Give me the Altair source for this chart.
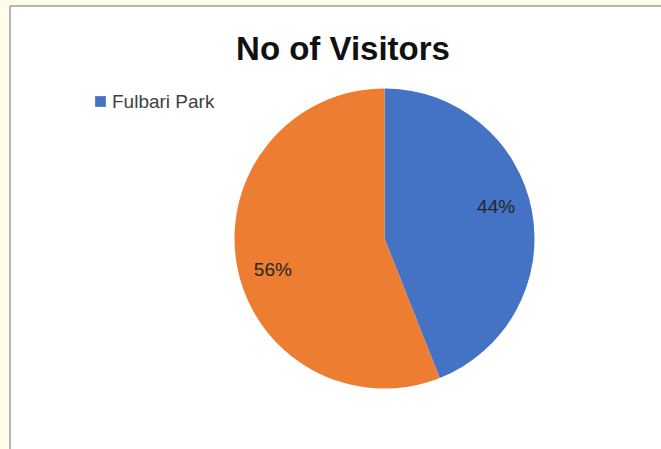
import altair as alt
import pandas as pd

title_text = "No of Visitors"
categories = ["Fulbari Park", "Other"]
shares = [44, 56]
labels = ["44%", "56%"]
colors = ["#4472C4", "#ED7D31"]
legend_values = ["Fulbari Park"]

df = pd.DataFrame({
    "category": categories,
    "share": shares,
    "label": labels,
    "order": list(range(len(categories))),
})

FONT = "Liberation Sans"
CX, CY = 374.5, 232.5
W, H = 651, 443

base = alt.Chart(df).encode(
    theta=alt.Theta("share:Q", stack=True),
    order=alt.Order("order:Q"),
)

pie = base.mark_arc(outerRadius=150).encode(
    x=alt.value(CX),
    y=alt.value(CY),
    color=alt.Color(
        "category:N",
        scale=alt.Scale(domain=categories, range=colors),
        legend=alt.Legend(
            values=legend_values,
            orient="none",
            legendX=81,
            legendY=86,
            title=None,
            symbolType="square",
            symbolSize=115,
            symbolStrokeWidth=0,
            labelFontSize=19,
            labelFont=FONT,
            labelColor="#404040",
            labelOffset=2,
            padding=0,
        ),
    ),
)

text = base.mark_text(
    radius=116, thetaOffset=6.196, fontSize=19, font=FONT, color="#262626"
).encode(
    x=alt.value(CX),
    y=alt.value(CY),
    text="label:N",
)

title = alt.Chart(pd.DataFrame({"t": [title_text]})).mark_text(
    fontSize=33, font=FONT, fontWeight="bold", color="#111111", baseline="alphabetic"
).encode(
    x=alt.value(333),
    y=alt.value(54),
    text="t:N",
)

frame = pd.DataFrame({"a": [0]})
left_line = alt.Chart(frame).mark_rule(color="#B4B4B4", strokeWidth=2).encode(
    x=alt.value(0), y=alt.value(0), y2=alt.value(H)
)
top_line = alt.Chart(frame).mark_rule(color="#B4B4B4", strokeWidth=2).encode(
    x=alt.value(0), x2=alt.value(W), y=alt.value(0)
)

chart = alt.layer(left_line, top_line, pie, text, title).properties(
    width=W,
    height=H,
    padding={"left": 10, "top": 6, "right": 0, "bottom": 0},
    autosize=alt.AutoSizeParams(type="none"),
    background="#FFFDE9",
).configure_view(
    fill="white",
    stroke=None,
)

chart.save("out.html", embed_options={"renderer": "svg", "actions": False})
